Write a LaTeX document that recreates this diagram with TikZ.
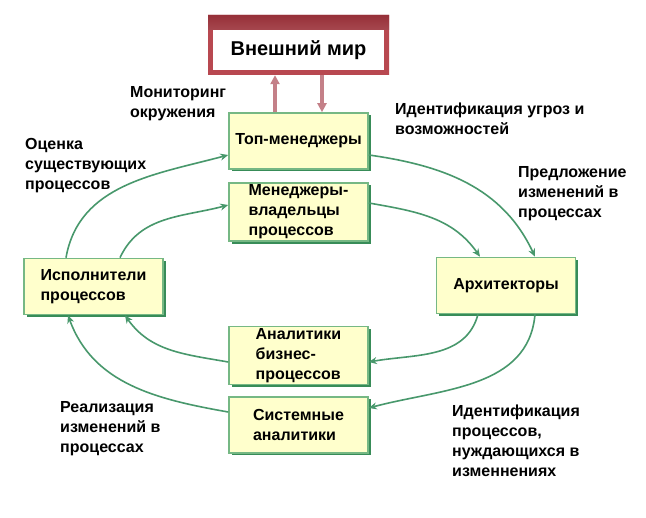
\documentclass[tikz,border=0pt]{standalone}
\usepackage{fontspec}
\setmainfont{Liberation Sans}
\usetikzlibrary{positioning,arrows.meta,shadows,shapes.misc}

\definecolor{boxfill}{RGB}{255,255,204}
\definecolor{boxgreen}{RGB}{118,184,132}
\definecolor{shadowgreen}{RGB}{56,140,88}
\definecolor{flowgreen}{RGB}{72,152,108}
\definecolor{worldred}{RGB}{184,72,80}
\definecolor{worlddark}{RGB}{150,48,56}
\definecolor{worldpink}{RGB}{216,142,148}
\definecolor{linkrose}{RGB}{196,128,136}

\tikzset{
  role/.style={rectangle, draw=boxgreen, line width=1.6pt, fill=boxfill,
    minimum width=139pt, minimum height=56pt, inner sep=2pt, align=left,
    font=\fontsize{16}{20}\selectfont\bfseries,
    drop shadow={shadow xshift=2.5pt, shadow yshift=-2.5pt, fill=shadowgreen, opacity=1}},
  note/.style={anchor=north west, inner sep=0pt, align=left,
    font=\fontsize{16}{20}\selectfont\bfseries},
  flow/.style={flowgreen, line width=1.6pt, -{Stealth[length=8pt,width=7pt]}},
  link/.style={draw=linkrose, line width=3.2pt, -{Triangle[length=9pt,width=9pt]}}
}

\begin{document}
\begin{tikzpicture}[x=1pt,y=1pt,node distance=70pt,on grid]
  \useasboundingbox[fill=white] (0,0) rectangle (646,518);

  \node[role]   (top)    at (298.5,377)  {Топ-менеджеры};
  \node[role]   (owners) [below=71pt of top]    {Менеджеры-\\владельцы\\процессов};
  \node[role]   (bpa)    [below=143.5pt of owners] {Аналитики\\бизнес-\\процессов};
  \node[role]   (sys)    [below=69.5pt of bpa]  {Системные\\аналитики};
  \node[role]   (arch)   [below right=144.5pt and 207.5pt of top] {Архитекторы};
  \node[role]   (exec)   [below left=145.5pt and 205pt of top]    {Исполнители\\процессов};

  % outer world
  \node[chamfered rectangle, chamfered rectangle corners={north west,north east},
        chamfered rectangle xsep=4pt, chamfered rectangle ysep=4pt,
        fill=worldred, minimum width=181pt, minimum height=60pt, inner sep=0pt,
        path picture={\shade[top color=worlddark, bottom color=worldpink]
          (path picture bounding box.north west) rectangle
          ([yshift=-15pt]path picture bounding box.north east);}]
        (world) at ([yshift=96pt]top.center) {};
  \node[fill=white, minimum width=171pt, minimum height=40pt, inner sep=0pt,
        font=\fontsize{20}{24}\selectfont\bfseries]
        (worldlabel) at ([yshift=91pt]top.center) {Внешний мир};

  \draw[link] ([xshift=-23.5pt]top.north) -- ([xshift=-23.5pt]top.north |- world.south);
  \draw[link] ([xshift=23.5pt]top.north |- world.south) -- ([xshift=23.5pt]top.north);

  \path[flow]
    ([yshift=-14pt]top.east)    edge[out=-8,in=115]  ([xshift=29pt]arch.north)
    ([yshift=9pt]owners.east)   edge[out=-10,in=125] ([xshift=-26pt]arch.north)
    ([xshift=-28pt]arch.south)  edge[out=-105,in=10] ([yshift=-6.5pt]bpa.east)
    ([xshift=29pt]arch.south)   edge[out=-95,in=15]  ([yshift=17pt]sys.east)
    ([yshift=-6.5pt]bpa.west)   edge[out=170,in=-55] ([xshift=31.5pt]exec.south)
    ([yshift=13pt]sys.west)     edge[out=170,in=-70] ([xshift=-25.5pt]exec.south)
    ([xshift=-27.5pt]exec.north) edge[out=80,in=195] ([yshift=-14pt]top.west)
    ([xshift=26.5pt]exec.north) edge[out=65,in=195]  ([yshift=7pt]owners.west);

  \node[note] (monitor) at (130,432) {Мониторинг\\окружения};
  \node[note] (threats) at (395,415) {Идентификация угроз и\\возможностей};
  \node[note] (assess)  at (25,380)  {Оценка\\существующих\\процессов};
  \node[note] (propose) at (518,352) {Предложение\\изменений в\\процессах};
  \node[note] (realize) at (60,117)  {Реализация\\изменений в\\процессах};
  \node[note] (identify) at (452,113) {Идентификация\\процессов,\\нуждающихся в\\изменнениях};
\end{tikzpicture}
\end{document}
